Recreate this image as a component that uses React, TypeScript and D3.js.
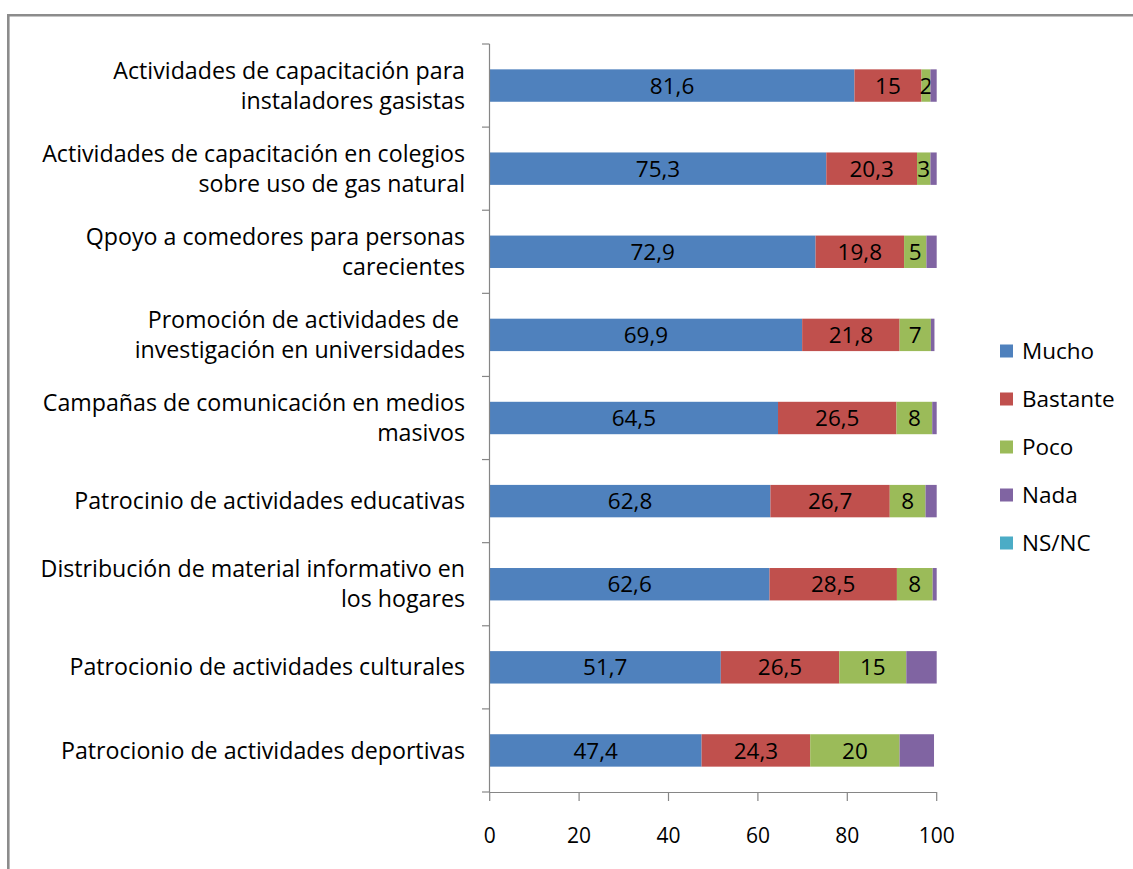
import React from "react";
import * as d3 from "d3";

const categories: string[][] = [
  ["Actividades de capacitación para", "instaladores gasistas"],
  ["Actividades de capacitación en colegios", "sobre uso de gas natural"],
  ["Qpoyo a comedores para personas", "carecientes"],
  ["Promoción de actividades de ", "investigación en universidades"],
  ["Campañas de comunicación en medios", "masivos"],
  ["Patrocinio de actividades educativas"],
  ["Distribución de material informativo en", "los hogares"],
  ["Patrocionio de actividades culturales"],
  ["Patrocionio de actividades deportivas"],
];

const seriesNames = ["Mucho", "Bastante", "Poco", "Nada", "NS/NC"];
const mucho = [81.6, 75.3, 72.9, 69.9, 64.5, 62.8, 62.6, 51.7, 47.4];
const bastante = [15, 20.3, 19.8, 21.8, 26.5, 26.7, 28.5, 26.5, 24.3];
const poco = [2, 3, 5, 7, 8, 8, 8, 15, 20];
const nada = [1.4, 1.4, 2.3, 0.8, 1, 2.5, 0.9, 6.8, 7.7];
const nsnc = [0, 0, 0, 0, 0, 0, 0, 0, 0];
const showLabel = [true, true, true, false, false];
const colors = ["#4F81BD", "#C0504D", "#9BBB59", "#8064A2", "#4BACC6"];
const xTicks = [0, 20, 40, 60, 80, 100];

const W = 1133;
const H = 869;
const FONT = "'Open Sans', Lato, sans-serif";
const FS_CAT = 23.2;
const FS_LBL = 22.5;
const FS_LEG = 22.5;
const FS_TICK = 21;

export default function App() {
  const series = [mucho, bastante, poco, nada, nsnc];
  const x = d3.scaleLinear().domain([0, 100]).range([489.7, 936.7]);
  const idx = categories.map((_, i) => String(i));
  const y = d3.scaleBand().domain(idx).range([44, 792]).paddingInner(0.61).paddingOuter(0.305);
  const step = y.step();
  const fmt = (v: number) => String(v).replace(".", ",");

  const stackData = categories.map((_, i) => {
    const o: Record<string, number> = {};
    seriesNames.forEach((s, k) => (o[s] = series[k][i]));
    return o;
  });
  const stacked = d3.stack<Record<string, number>>().keys(seriesNames)(stackData);

  const axisColor = "#868686";
  const catTicks = d3.range(categories.length + 1).map((i) => 44 + i * step);

  return (
    <svg
      width={W}
      height={H}
      style={{ position: "absolute", left: 0, top: 0, display: "block", background: "#fff" }}
      fontFamily={FONT}
    >
      {/* frame */}
      <line x1={8.3} y1={15.3} x2={W} y2={15.3} stroke="#8c8c8c" strokeWidth={2.6} />
      <line x1={8.3} y1={14} x2={8.3} y2={H} stroke="#8c8c8c" strokeWidth={2.6} />

      {/* bars */}
      {stacked.map((layer, k) => (
        <g key={seriesNames[k]}>
          {layer.map((d, i) => {
            const v = series[k][i];
            if (v <= 0) return null;
            const yy = y(String(i))!;
            return (
              <g key={i}>
                <rect
                  x={x(d[0])}
                  y={yy}
                  width={x(d[1]) - x(d[0])}
                  height={y.bandwidth()}
                  fill={colors[k]}
                />
                {showLabel[k] && (
                  <text
                    x={(x(d[0]) + x(d[1])) / 2}
                    y={yy + y.bandwidth() / 2}
                    dy="0.36em"
                    textAnchor="middle"
                    fontSize={FS_LBL}
                    fill="#000"
                  >
                    {fmt(v)}
                  </text>
                )}
              </g>
            );
          })}
        </g>
      ))}

      {/* y axis */}
      <line x1={489.5} y1={44} x2={489.5} y2={792} stroke={axisColor} strokeWidth={1.2} />
      {catTicks.map((t, i) => (
        <line key={i} x1={482} y1={t} x2={489.5} y2={t} stroke={axisColor} strokeWidth={1.2} />
      ))}

      {/* x axis */}
      <line x1={489.5} y1={792.5} x2={936.7} y2={792.5} stroke={axisColor} strokeWidth={1.2} />
      {xTicks.map((t) => (
        <g key={t}>
          <line x1={x(t)} y1={792} x2={x(t)} y2={801} stroke={axisColor} strokeWidth={1.2} />
          <text x={x(t)} y={843} textAnchor="middle" fontSize={FS_TICK} fill="#000">
            {t}
          </text>
        </g>
      ))}

      {/* category labels */}
      {categories.map((lines, i) => {
        const cy = y(String(i))! + y.bandwidth() / 2;
        const lh = 30;
        const start = cy - ((lines.length - 1) * lh) / 2;
        return (
          <text key={i} textAnchor="end" fontSize={FS_CAT} fill="#000">
            {lines.map((l, j) => (
              <tspan key={j} x={465} y={start + j * lh} dy="0.35em" style={{ whiteSpace: "pre" }}>
                {l}
              </tspan>
            ))}
          </text>
        );
      })}

      {/* legend */}
      {seriesNames.map((s, k) => {
        const ly = 351 + k * 48;
        return (
          <g key={s}>
            <rect x={1000} y={ly - 6.5} width={13} height={13} fill={colors[k]} />
            <text x={1022} y={ly} dy="0.36em" fontSize={FS_LEG} fill="#000">
              {s}
            </text>
          </g>
        );
      })}
    </svg>
  );
}
